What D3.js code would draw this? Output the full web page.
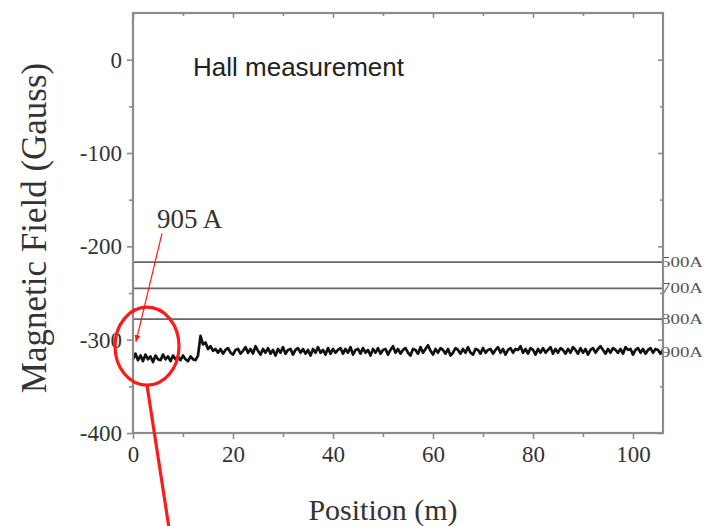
<!DOCTYPE html>
<html>
<head>
<meta charset="utf-8">
<script src="https://cdn.jsdelivr.net/npm/d3@7"></script>
<style>
  html, body { margin: 0; padding: 0; background: #fff; }
  svg { display: block; }
</style>
</head>
<body>
<svg id="chart" width="705" height="526"></svg>
<script>
// Hall probe scan: field along the track at 905 A, plus reference levels
const positionStart = 0;
const positionStep = 0.5; // m between samples

const fieldGauss = [
  // 0 – 13 m
  -321,-315,-322,-317,-323,-316,-321,-318,-324,-317,-321,-322,-316,-321,-318,-323,-317,-321,-318,-322,-317,-321,-323,-318,-321,-322,-317,
  // 13.5 – 16.5 m
  -296,-305,-303,-310,-307,-312,-310,
  // 17 – 106 m
  -314,-310,-315,-311,-309,-314,-316,-311,-310,-315,
  -312,-308,-314,-310,-315,-307,-312,-316,-310,-314,
  -309,-315,-311,-317,-310,-314,-308,-315,-311,-310,
  -316,-311,-309,-314,-310,-315,-311,-317,-310,-314,
  -308,-314,-311,-316,-309,-315,-310,-314,-311,-309,
  -315,-310,-314,-308,-316,-311,-310,-315,-309,-314,
  -311,-317,-310,-314,-309,-315,-311,-310,-316,-311,
  -307,-314,-310,-315,-311,-309,-314,-317,-310,-311,
  -315,-308,-314,-310,-306,-312,-316,-310,-314,-309,
  -311,-315,-310,-317,-314,-309,-311,-315,-310,-314,
  -308,-314,-316,-310,-311,-315,-309,-314,-311,-310,
  -315,-311,-308,-314,-310,-316,-311,-309,-314,-310,
  -311,-307,-314,-310,-315,-309,-311,-316,-310,-314,
  -309,-314,-311,-308,-315,-310,-314,-309,-311,-315,
  -310,-314,-308,-311,-315,-309,-314,-310,-316,-311,
  -309,-314,-310,-307,-311,-315,-310,-314,-309,-311,
  -314,-310,-315,-308,-311,-310,-316,-311,-309,-314,
  -310,-315,-311,-309,-314,-310,-311,-315,-311
];

// Reference field levels for lower currents
const refLabels = ["500A", "700A", "800A"];
const refLevels = [-217, -245, -278];
const seriesLabel = "900A";
const seriesLevel = -313;

const xTicks = [0, 20, 40, 60, 80, 100];
const xMinor = [10, 30, 50, 70, 90];
const yTicks = [0, -100, -200, -300, -400];
const yMinor = [-50, -150, -250, -350];

const points = fieldGauss.map((v, i) => [positionStart + i * positionStep, v]);

const W = 705, H = 526;
const plot = { left: 133, top: 13, right: 663, bottom: 433 };

const x = d3.scaleLinear().domain([0, 106]).range([plot.left, plot.right]);
const y = d3.scaleLinear().domain([-400, 50]).range([plot.bottom, plot.top]);

const svg = d3.select("#chart");
const serif = "'Liberation Serif', 'Times New Roman', serif";
const sans = "'Liberation Sans', Arial, sans-serif";
const frameColor = "#8c8c8c";
const textColor = "#333";

// Reference level lines
svg.append("g").selectAll("line").data(refLevels).join("line")
  .attr("x1", plot.left).attr("x2", plot.right)
  .attr("y1", d => y(d)).attr("y2", d => y(d))
  .attr("stroke", "#666").attr("stroke-width", 1.7);

// Measured field
svg.append("path")
  .datum(points)
  .attr("fill", "none")
  .attr("stroke", "#111")
  .attr("stroke-width", 2.7)
  .attr("stroke-linejoin", "round")
  .attr("d", d3.line().x(d => x(d[0])).y(d => y(d[1])));

// Level labels at the right edge
const levelLabels = refLabels.map((t, i) => ({ t, v: refLevels[i] }))
  .concat([{ t: seriesLabel, v: seriesLevel }]);
svg.append("g").selectAll("text").data(levelLabels).join("text")
  .attr("x", plot.right - 2)
  .attr("y", d => y(d.v) + 5)
  .attr("font-family", serif)
  .attr("font-size", 14)
  .attr("textLength", 42)
  .attr("lengthAdjust", "spacingAndGlyphs")
  .attr("fill", "#555")
  .text(d => d.t);

// Axes
const gx = svg.append("g").attr("transform", `translate(0,${plot.bottom})`);
gx.call(d3.axisBottom(x).tickValues(xTicks).tickSize(6).tickPadding(7).tickFormat(d3.format("d")));
gx.append("g").call(d3.axisBottom(x).tickValues(xMinor).tickSize(4).tickFormat(""));

const gy = svg.append("g").attr("transform", `translate(${plot.left},0)`);
gy.call(d3.axisLeft(y).tickValues(yTicks).tickSize(6).tickPadding(5).tickFormat(d => d < 0 ? "-" + Math.abs(d) : String(d)));
gy.append("g").call(d3.axisLeft(y).tickValues(yMinor).tickSize(4).tickFormat(""));

const gt = svg.append("g").attr("transform", `translate(0,${plot.top})`);
gt.call(d3.axisBottom(x).tickValues(xTicks).tickSize(5).tickFormat(""));
gt.append("g").call(d3.axisBottom(x).tickValues(xMinor).tickSize(3).tickFormat(""));

const gr = svg.append("g").attr("transform", `translate(${plot.right},0)`);
gr.call(d3.axisLeft(y).tickValues(yTicks).tickSize(5).tickFormat(""));
gr.append("g").call(d3.axisLeft(y).tickValues(yMinor).tickSize(3).tickFormat(""));

svg.selectAll(".domain").remove();
svg.selectAll(".tick line").attr("stroke", frameColor).attr("stroke-width", 1.6);
svg.selectAll(".tick text")
  .attr("font-family", serif).attr("font-size", 23).attr("fill", textColor);

// Plot frame
svg.append("rect")
  .attr("x", plot.left).attr("y", plot.top)
  .attr("width", plot.right - plot.left).attr("height", plot.bottom - plot.top)
  .attr("fill", "none").attr("stroke", frameColor).attr("stroke-width", 2.2);

// Axis titles
svg.append("text")
  .attr("x", x(50)).attr("y", 520)
  .attr("text-anchor", "middle")
  .attr("font-family", serif).attr("font-size", 30).attr("fill", textColor)
  .text("Position (m)");

svg.append("text")
  .attr("transform", `translate(46,228) rotate(-90)`)
  .attr("text-anchor", "middle")
  .attr("font-family", serif).attr("font-size", 35).attr("fill", textColor)
  .text("Magnetic Field (Gauss)");

// Inset title
svg.append("text")
  .attr("x", x(12)).attr("y", y(-17))
  .attr("font-family", sans).attr("font-size", 26).attr("fill", "#222")
  .text("Hall measurement");

// Annotation: 905 A callout with arrow and circled start region
const red = "#ff1a1a";
svg.append("defs").append("marker")
  .attr("id", "arrowhead")
  .attr("viewBox", "0 0 10 10").attr("refX", 9).attr("refY", 5)
  .attr("markerWidth", 6).attr("markerHeight", 6)
  .attr("orient", "auto")
  .append("path").attr("d", "M0,1 L10,5 L0,9 Z").attr("fill", red);

svg.append("text")
  .attr("x", x(4.8)).attr("y", y(-180))
  .attr("font-family", serif).attr("font-size", 27).attr("fill", textColor)
  .text("905 A");

svg.append("line")
  .attr("x1", x(5.8)).attr("y1", y(-186))
  .attr("x2", x(0.6)).attr("y2", y(-302))
  .attr("stroke", red).attr("stroke-width", 1.2)
  .attr("marker-end", "url(#arrowhead)");

svg.append("ellipse")
  .attr("cx", x(2.8)).attr("cy", y(-307))
  .attr("rx", 32).attr("ry", 39)
  .attr("fill", "none").attr("stroke", red).attr("stroke-width", 3.2);

svg.append("line")
  .attr("x1", x(2.8)).attr("y1", y(-307) + 39)
  .attr("x2", x(7.2)).attr("y2", H + 2)
  .attr("stroke", red).attr("stroke-width", 3.2);
</script>
</body>
</html>
